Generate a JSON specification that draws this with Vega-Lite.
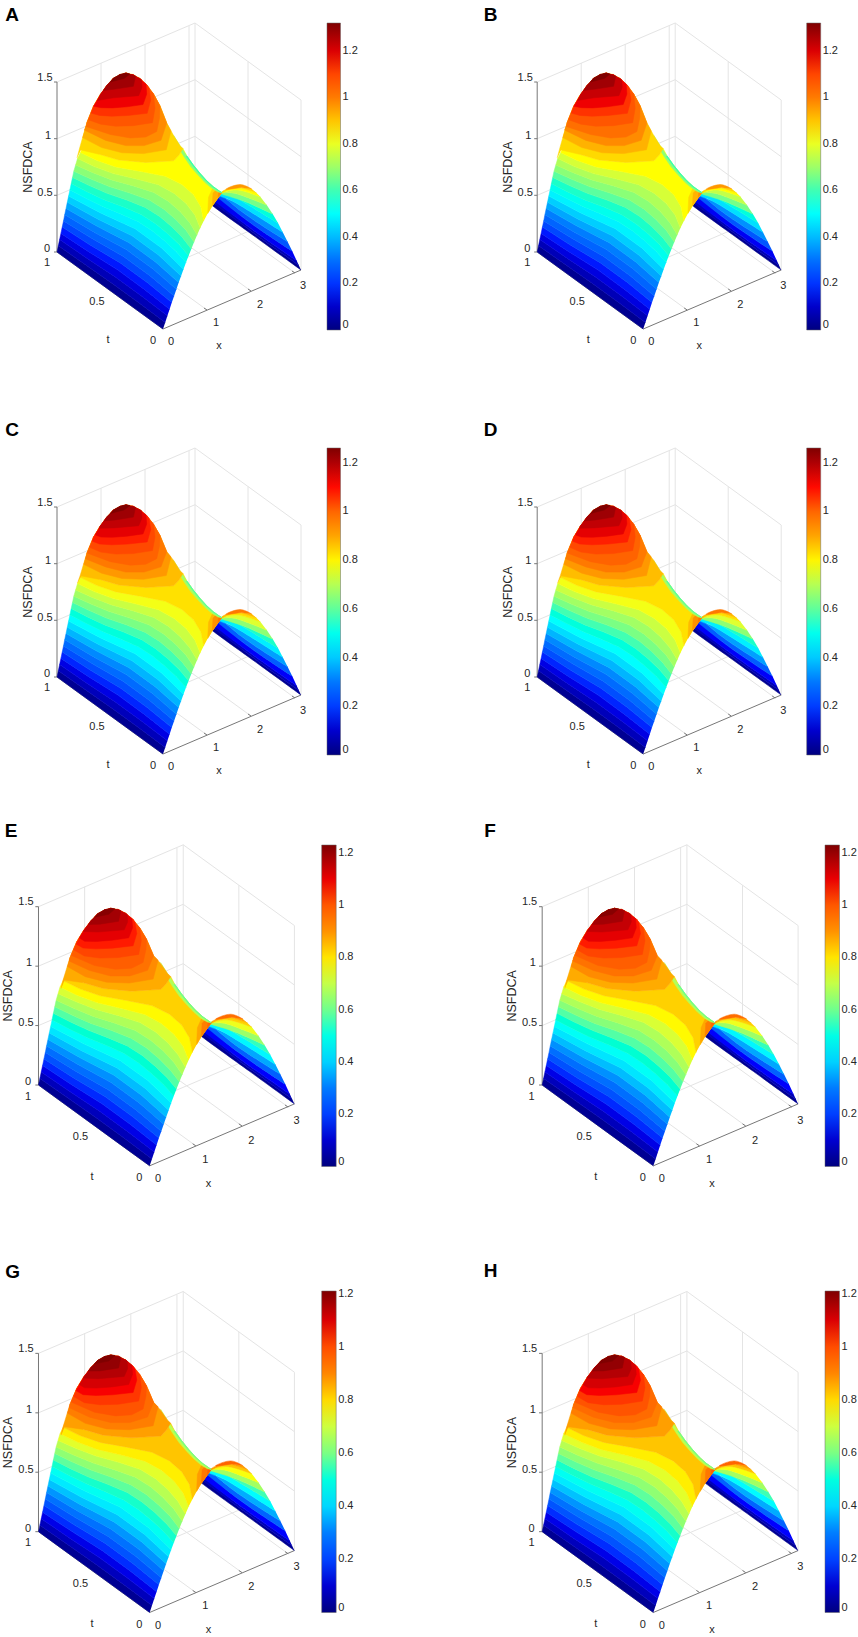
{
"$schema":"https://vega.github.io/schema/vega-lite/v6.json",
"padding":0,"background":"white","spacing":0,
"config":{"view":{"stroke":null},"text":{"font":"Liberation Sans","fontSize":11,"color":"#262626"},"rule":{"strokeWidth":1},"line":{"filled":true,"strokeWidth":0.5},"legend":{"direction":"vertical","gradientStrokeColor":"#666","gradientStrokeWidth":0.5,"labelFont":"Liberation Sans","labelFontSize":11,"labelColor":"#262626","labelOverlap":false,"labelOffset":6,"labelFlush":false}},
"datasets":{
"grid":[{"u":57,"v":252,"u2":195,"v2":193},{"u":195,"v":193,"u2":301,"v2":270},{"u":207,"v":310,"u2":101,"v2":233},{"u":251,"v":291,"u2":145,"v2":214},{"u":295,"v":273,"u2":189,"v2":196},{"u":110,"v":290.5,"u2":248,"v2":231.5},{"u":57,"v":195.3,"u2":195,"v2":136.3},{"u":57,"v":138.7,"u2":195,"v2":79.7},{"u":57,"v":82,"u2":195,"v2":23},{"u":101,"v":233,"u2":101,"v2":63},{"u":145,"v":214,"u2":145,"v2":44},{"u":189,"v":196,"u2":189,"v2":26},{"u":195,"v":193,"u2":195,"v2":23},{"u":195,"v":136.3,"u2":301,"v2":213.3},{"u":195,"v":79.7,"u2":301,"v2":156.7},{"u":195,"v":23,"u2":301,"v2":100},{"u":248,"v":231.5,"u2":248,"v2":61.5},{"u":301,"v":270,"u2":301,"v2":100}],
"axes":[{"u":57,"v":252,"u2":57,"v2":82},{"u":57,"v":252,"u2":163,"v2":329},{"u":163,"v":329,"u2":301,"v2":270},{"u":57,"v":252,"u2":54,"v2":252},{"u":57,"v":195.3,"u2":54,"v2":195.3},{"u":57,"v":138.7,"u2":54,"v2":138.7},{"u":57,"v":82,"u2":54,"v2":82},{"u":207,"v":310,"u2":204,"v2":308},{"u":251,"v":291,"u2":248,"v2":289},{"u":295,"v":273,"u2":292,"v2":271},{"u":110,"v":290.5,"u2":113,"v2":289}],
"labels":[{"s":"1.5","u":45,"v":78},{"s":"1","u":48,"v":136},{"s":"0.5","u":45,"v":193},{"s":"0","u":47,"v":249},{"s":"1","u":47,"v":263},{"s":"0.5","u":97,"v":302},{"s":"0","u":153,"v":341},{"s":"0","u":171,"v":342},{"s":"1","u":216,"v":323},{"s":"2","u":260,"v":305},{"s":"3","u":303,"v":286},{"s":"t","u":108,"v":340},{"s":"x","u":219,"v":346}],
"wedge":[
{"z":0.025,"i":1,"u":301,"v":270},{"z":0.025,"i":2,"u":258.6,"v":239.2},{"z":0.025,"i":3,"u":210.9,"v":204.5},{"z":0.025,"i":4,"u":209,"v":199.6},{"z":0.025,"i":5,"u":256,"v":234.7},{"z":0.025,"i":6,"u":298.8,"v":265.3},
{"z":0.075,"i":1,"u":298.8,"v":265.3},{"z":0.075,"i":2,"u":256,"v":234.7},{"z":0.075,"i":3,"u":209,"v":199.6},{"z":0.075,"i":4,"u":207.1,"v":194.8},{"z":0.075,"i":5,"u":253.3,"v":230.2},{"z":0.075,"i":6,"u":296.6,"v":260.6},
{"z":0.15,"i":1,"u":296.6,"v":260.6},{"z":0.15,"i":2,"u":253.3,"v":230.2},{"z":0.15,"i":3,"u":207.1,"v":194.8},{"z":0.15,"i":4,"u":203.2,"v":185.1},{"z":0.15,"i":5,"u":247.9,"v":221.1},{"z":0.15,"i":6,"u":292.2,"v":251.1},
{"z":0.25,"i":1,"u":292.2,"v":251.1},{"z":0.25,"i":2,"u":247.9,"v":221.1},{"z":0.25,"i":3,"u":203.2,"v":185.1},{"z":0.25,"i":4,"u":199.3,"v":175.5},{"z":0.25,"i":5,"u":242.4,"v":212.1},{"z":0.25,"i":6,"u":287.6,"v":241.7},
{"z":0.35,"i":1,"u":287.6,"v":241.7},{"z":0.35,"i":2,"u":242.4,"v":212.1},{"z":0.35,"i":3,"u":199.3,"v":175.5},{"z":0.35,"i":4,"u":218,"v":195},{"z":0.35,"i":5,"u":236.5,"v":203.3},{"z":0.35,"i":6,"u":282.9,"v":232.4},
{"z":0.45,"i":1,"u":282.9,"v":232.4},{"z":0.45,"i":2,"u":236.5,"v":203.3},{"z":0.45,"i":3,"u":218,"v":195},{"z":0.45,"i":4,"u":219,"v":193.5},{"z":0.45,"i":5,"u":230.2,"v":194.6},{"z":0.45,"i":6,"u":278,"v":223.1},
{"z":0.55,"i":1,"u":278,"v":223.1},{"z":0.55,"i":2,"u":230.2,"v":194.6},{"z":0.55,"i":3,"u":219,"v":193.5},{"z":0.55,"i":4,"u":220,"v":193.5},{"z":0.55,"i":5,"u":245,"v":201.6},{"z":0.55,"i":6,"u":272.7,"v":214.1},
{"z":0.65,"i":1,"u":272.7,"v":214.1},{"z":0.65,"i":2,"u":245,"v":201.6},{"z":0.65,"i":3,"u":220,"v":193.5},{"z":0.65,"i":4,"u":220.5,"v":193},{"z":0.65,"i":5,"u":236.6,"v":193.8},{"z":0.65,"i":6,"u":266.9,"v":205.3},
{"z":0.75,"i":1,"u":266.9,"v":205.3},{"z":0.75,"i":2,"u":236.6,"v":193.8},{"z":0.75,"i":3,"u":220.5,"v":193},{"z":0.75,"i":4,"u":221,"v":192.5},{"z":0.75,"i":5,"u":238,"v":190},{"z":0.75,"i":6,"u":260.3,"v":196.8},
{"z":0.825,"i":1,"u":260.3,"v":196.8},{"z":0.825,"i":2,"u":238,"v":190},{"z":0.825,"i":3,"u":221,"v":192.5},{"z":0.825,"i":4,"u":222,"v":192.8},{"z":0.825,"i":5,"u":236,"v":187.5},{"z":0.825,"i":6,"u":256.3,"v":192.8},
{"z":0.875,"i":1,"u":256.3,"v":192.8},{"z":0.875,"i":2,"u":236,"v":187.5},{"z":0.875,"i":3,"u":222,"v":192.8},{"z":0.875,"i":4,"u":226,"v":189.5},{"z":0.875,"i":5,"u":240.9,"v":187.5},{"z":0.875,"i":6,"u":251.8,"v":189},
{"z":0.96,"i":1,"u":251.8,"v":189},{"z":0.96,"i":2,"u":246,"v":186},{"z":0.96,"i":3,"u":240,"v":184.5},{"z":0.96,"i":4,"u":232,"v":186.2},{"z":0.96,"i":5,"u":226,"v":189.5},{"z":0.96,"i":6,"u":240.9,"v":187.5}
],
"main":[
{"z":0.025,"i":1,"u":163,"v":329},{"z":0.025,"i":2,"u":136.5,"v":309.8},{"z":0.025,"i":3,"u":110,"v":290.5},{"z":0.025,"i":4,"u":83.5,"v":271.3},{"z":0.025,"i":5,"u":57,"v":252},{"z":0.025,"i":6,"u":58.3,"v":245.8},{"z":0.025,"i":7,"u":85.4,"v":264.7},{"z":0.025,"i":8,"u":112.6,"v":283.7},{"z":0.025,"i":9,"u":139.1,"v":303},{"z":0.025,"i":10,"u":165.2,"v":322.4},
{"z":0.075,"i":1,"u":165.2,"v":322.4},{"z":0.075,"i":2,"u":139.1,"v":303},{"z":0.075,"i":3,"u":112.6,"v":283.7},{"z":0.075,"i":4,"u":85.4,"v":264.7},{"z":0.075,"i":5,"u":58.3,"v":245.8},{"z":0.075,"i":6,"u":59.6,"v":239.6},{"z":0.075,"i":7,"u":87.2,"v":258.4},{"z":0.075,"i":8,"u":115.3,"v":276.9},{"z":0.075,"i":9,"u":141.8,"v":296.2},{"z":0.075,"i":10,"u":167.4,"v":315.8},
{"z":0.125,"i":1,"u":167.4,"v":315.8},{"z":0.125,"i":2,"u":141.8,"v":296.2},{"z":0.125,"i":3,"u":115.3,"v":276.9},{"z":0.125,"i":4,"u":87.2,"v":258.4},{"z":0.125,"i":5,"u":59.6,"v":239.6},{"z":0.125,"i":6,"u":60.9,"v":233.4},{"z":0.125,"i":7,"u":89,"v":251.9},{"z":0.125,"i":8,"u":117.9,"v":270.1},{"z":0.125,"i":9,"u":144.4,"v":289.4},{"z":0.125,"i":10,"u":169.6,"v":309.2},
{"z":0.175,"i":1,"u":169.6,"v":309.2},{"z":0.175,"i":2,"u":144.4,"v":289.4},{"z":0.175,"i":3,"u":117.9,"v":270.1},{"z":0.175,"i":4,"u":89,"v":251.9},{"z":0.175,"i":5,"u":60.9,"v":233.4},{"z":0.175,"i":6,"u":62.2,"v":227.1},{"z":0.175,"i":7,"u":90.9,"v":245.5},{"z":0.175,"i":8,"u":120.7,"v":263.2},{"z":0.175,"i":9,"u":147.2,"v":282.5},{"z":0.175,"i":10,"u":171.8,"v":302.5},
{"z":0.225,"i":1,"u":171.8,"v":302.5},{"z":0.225,"i":2,"u":147.2,"v":282.5},{"z":0.225,"i":3,"u":120.7,"v":263.2},{"z":0.225,"i":4,"u":90.9,"v":245.5},{"z":0.225,"i":5,"u":62.2,"v":227.1},{"z":0.225,"i":6,"u":63.5,"v":220.9},{"z":0.225,"i":7,"u":92.8,"v":239},{"z":0.225,"i":8,"u":123.4,"v":256.5},{"z":0.225,"i":9,"u":149.9,"v":275.7},{"z":0.225,"i":10,"u":174.1,"v":296},
{"z":0.275,"i":1,"u":174.1,"v":296},{"z":0.275,"i":2,"u":149.9,"v":275.7},{"z":0.275,"i":3,"u":123.4,"v":256.5},{"z":0.275,"i":4,"u":92.8,"v":239},{"z":0.275,"i":5,"u":63.5,"v":220.9},{"z":0.275,"i":6,"u":64.7,"v":214.7},{"z":0.275,"i":7,"u":94.6,"v":232.4},{"z":0.275,"i":8,"u":126.2,"v":249.6},{"z":0.275,"i":9,"u":152.7,"v":268.8},{"z":0.275,"i":10,"u":176.4,"v":289.3},
{"z":0.325,"i":1,"u":176.4,"v":289.3},{"z":0.325,"i":2,"u":152.7,"v":268.8},{"z":0.325,"i":3,"u":126.2,"v":249.6},{"z":0.325,"i":4,"u":94.6,"v":232.4},{"z":0.325,"i":5,"u":64.7,"v":214.7},{"z":0.325,"i":6,"u":66,"v":208.5},{"z":0.325,"i":7,"u":96.6,"v":226},{"z":0.325,"i":8,"u":129,"v":242.7},{"z":0.325,"i":9,"u":155.5,"v":261.9},{"z":0.325,"i":10,"u":178.7,"v":282.6},
{"z":0.375,"i":1,"u":178.7,"v":282.6},{"z":0.375,"i":2,"u":155.5,"v":261.9},{"z":0.375,"i":3,"u":129,"v":242.7},{"z":0.375,"i":4,"u":96.6,"v":226},{"z":0.375,"i":5,"u":66,"v":208.5},{"z":0.375,"i":6,"u":67.3,"v":202.3},{"z":0.375,"i":7,"u":98.5,"v":219.5},{"z":0.375,"i":8,"u":132,"v":235.8},{"z":0.375,"i":9,"u":158.5,"v":255},{"z":0.375,"i":10,"u":181.1,"v":276},
{"z":0.425,"i":1,"u":181.1,"v":276},{"z":0.425,"i":2,"u":158.5,"v":255},{"z":0.425,"i":3,"u":132,"v":235.8},{"z":0.425,"i":4,"u":98.5,"v":219.5},{"z":0.425,"i":5,"u":67.3,"v":202.3},{"z":0.425,"i":6,"u":68.6,"v":196.1},{"z":0.425,"i":7,"u":100.6,"v":213},{"z":0.425,"i":8,"u":135.1,"v":228.8},{"z":0.425,"i":9,"u":161.6,"v":248},{"z":0.425,"i":10,"u":183.5,"v":269.2},
{"z":0.475,"i":1,"u":183.5,"v":269.2},{"z":0.475,"i":2,"u":161.6,"v":248},{"z":0.475,"i":3,"u":135.1,"v":228.8},{"z":0.475,"i":4,"u":100.6,"v":213},{"z":0.475,"i":5,"u":68.6,"v":196.1},{"z":0.475,"i":6,"u":69.9,"v":189.9},{"z":0.475,"i":7,"u":85.9,"v":198.3},{"z":0.475,"i":8,"u":102.6,"v":206.4},{"z":0.475,"i":9,"u":120.8,"v":213.9},{"z":0.475,"i":10,"u":138.3,"v":221.7},{"z":0.475,"i":11,"u":152.5,"v":231},{"z":0.475,"i":12,"u":164.8,"v":241},{"z":0.475,"i":13,"u":176.1,"v":251.5},{"z":0.475,"i":14,"u":186,"v":262.5},
{"z":0.525,"i":1,"u":186,"v":262.5},{"z":0.525,"i":2,"u":176.1,"v":251.5},{"z":0.525,"i":3,"u":164.8,"v":241},{"z":0.525,"i":4,"u":152.5,"v":231},{"z":0.525,"i":5,"u":138.3,"v":221.7},{"z":0.525,"i":6,"u":120.8,"v":213.9},{"z":0.525,"i":7,"u":102.6,"v":206.4},{"z":0.525,"i":8,"u":85.9,"v":198.3},{"z":0.525,"i":9,"u":69.9,"v":189.9},{"z":0.525,"i":10,"u":71.2,"v":183.6},{"z":0.525,"i":11,"u":87.5,"v":191.9},{"z":0.525,"i":12,"u":104.7,"v":199.9},{"z":0.525,"i":13,"u":123.6,"v":207.1},{"z":0.525,"i":14,"u":141.7,"v":214.7},{"z":0.525,"i":15,"u":156,"v":223.9},{"z":0.525,"i":16,"u":168.2,"v":234},{"z":0.525,"i":17,"u":179.2,"v":244.6},{"z":0.525,"i":18,"u":188.6,"v":255.8},
{"z":0.575,"i":1,"u":188.6,"v":255.8},{"z":0.575,"i":2,"u":179.2,"v":244.6},{"z":0.575,"i":3,"u":168.2,"v":234},{"z":0.575,"i":4,"u":156,"v":223.9},{"z":0.575,"i":5,"u":141.7,"v":214.7},{"z":0.575,"i":6,"u":123.6,"v":207.1},{"z":0.575,"i":7,"u":104.7,"v":199.9},{"z":0.575,"i":8,"u":87.5,"v":191.9},{"z":0.575,"i":9,"u":71.2,"v":183.6},{"z":0.575,"i":10,"u":72.5,"v":177.4},{"z":0.575,"i":11,"u":89.3,"v":185.6},{"z":0.575,"i":12,"u":107,"v":193.3},{"z":0.575,"i":13,"u":126.7,"v":200.1},{"z":0.575,"i":14,"u":145.3,"v":207.4},{"z":0.575,"i":15,"u":159.7,"v":216.5},{"z":0.575,"i":16,"u":171.8,"v":226.7},{"z":0.575,"i":17,"u":182.4,"v":237.4},{"z":0.575,"i":18,"u":191.3,"v":248.9},
{"z":0.625,"i":1,"u":191.3,"v":248.9},{"z":0.625,"i":2,"u":182.4,"v":237.4},{"z":0.625,"i":3,"u":171.8,"v":226.7},{"z":0.625,"i":4,"u":159.7,"v":216.5},{"z":0.625,"i":5,"u":145.3,"v":207.4},{"z":0.625,"i":6,"u":126.7,"v":200.1},{"z":0.625,"i":7,"u":107,"v":193.3},{"z":0.625,"i":8,"u":89.3,"v":185.6},{"z":0.625,"i":9,"u":72.5,"v":177.4},{"z":0.625,"i":10,"u":73.8,"v":171.2},{"z":0.625,"i":11,"u":90.9,"v":179.1},{"z":0.625,"i":12,"u":109.2,"v":186.6},{"z":0.625,"i":13,"u":129.8,"v":193.1},{"z":0.625,"i":14,"u":149.3,"v":200.1},{"z":0.625,"i":15,"u":163.9,"v":209.2},{"z":0.625,"i":16,"u":175.8,"v":219.4},{"z":0.625,"i":17,"u":186,"v":230.3},{"z":0.625,"i":18,"u":194.1,"v":242.1},
{"z":0.675,"i":1,"u":194.1,"v":242.1},{"z":0.675,"i":2,"u":186,"v":230.3},{"z":0.675,"i":3,"u":175.8,"v":219.4},{"z":0.675,"i":4,"u":163.9,"v":209.2},{"z":0.675,"i":5,"u":149.3,"v":200.1},{"z":0.675,"i":6,"u":129.8,"v":193.1},{"z":0.675,"i":7,"u":109.2,"v":186.6},{"z":0.675,"i":8,"u":90.9,"v":179.1},{"z":0.675,"i":9,"u":73.8,"v":171.2},{"z":0.675,"i":10,"u":75.6,"v":165},{"z":0.675,"i":11,"u":92.9,"v":172.7},{"z":0.675,"i":12,"u":111.7,"v":179.9},{"z":0.675,"i":13,"u":133.4,"v":185.9},{"z":0.675,"i":14,"u":153.8,"v":192.5},{"z":0.675,"i":15,"u":168.6,"v":201.5},{"z":0.675,"i":16,"u":180.3,"v":211.8},{"z":0.675,"i":17,"u":189.9,"v":223},{"z":0.675,"i":18,"u":197.1,"v":235.1},
{"z":0.725,"i":1,"u":197.1,"v":235.1},{"z":0.725,"i":2,"u":189.9,"v":223},{"z":0.725,"i":3,"u":180.3,"v":211.8},{"z":0.725,"i":4,"u":168.6,"v":201.5},{"z":0.725,"i":5,"u":153.8,"v":192.5},{"z":0.725,"i":6,"u":133.4,"v":185.9},{"z":0.725,"i":7,"u":111.7,"v":179.9},{"z":0.725,"i":8,"u":92.9,"v":172.7},{"z":0.725,"i":9,"u":75.6,"v":165},{"z":0.725,"i":10,"u":77.5,"v":158.6},{"z":0.725,"i":11,"u":94.2,"v":166.6},{"z":0.725,"i":12,"u":113.2,"v":173.6},{"z":0.725,"i":13,"u":136.3,"v":179},{"z":0.725,"i":14,"u":158.4,"v":184.8},{"z":0.725,"i":15,"u":174.2,"v":193.4},{"z":0.725,"i":16,"u":186.1,"v":203.6},{"z":0.725,"i":17,"u":194.9,"v":215.1},{"z":0.725,"i":18,"u":200.2,"v":228.1},
{"z":0.775,"i":1,"u":200.2,"v":228.1},{"z":0.775,"i":2,"u":194.9,"v":215.1},{"z":0.775,"i":3,"u":186.1,"v":203.6},{"z":0.775,"i":4,"u":174.2,"v":193.4},{"z":0.775,"i":5,"u":158.4,"v":184.8},{"z":0.775,"i":6,"u":136.3,"v":179},{"z":0.775,"i":7,"u":113.2,"v":173.6},{"z":0.775,"i":8,"u":94.2,"v":166.6},{"z":0.775,"i":9,"u":77.5,"v":158.6},{"z":0.775,"i":10,"u":80.5,"v":152.5},{"z":0.775,"i":11,"u":96.4,"v":160.3},{"z":0.775,"i":12,"u":115.8,"v":166.9},{"z":0.775,"i":13,"u":141,"v":171.4},{"z":0.775,"i":14,"u":165.2,"v":176.3},{"z":0.775,"i":15,"u":181.9,"v":184.5},{"z":0.775,"i":16,"u":193.6,"v":194.8},{"z":0.775,"i":17,"u":200.9,"v":206.9},{"z":0.775,"i":18,"u":203.7,"v":221},
{"z":0.825,"i":1,"u":203.7,"v":221},{"z":0.825,"i":2,"u":200.9,"v":206.9},{"z":0.825,"i":3,"u":193.6,"v":194.8},{"z":0.825,"i":4,"u":181.9,"v":184.5},{"z":0.825,"i":5,"u":165.2,"v":176.3},{"z":0.825,"i":6,"u":141,"v":171.4},{"z":0.825,"i":7,"u":115.8,"v":166.9},{"z":0.825,"i":8,"u":96.4,"v":160.3},{"z":0.825,"i":9,"u":80.5,"v":152.5},{"z":0.825,"i":10,"u":83,"v":146.5},{"z":0.825,"i":11,"u":100,"v":154.5},{"z":0.825,"i":12,"u":118.7,"v":160},{"z":0.825,"i":13,"u":146,"v":162.5},{"z":0.825,"i":14,"u":173.7,"v":160.8},{"z":0.825,"i":15,"u":179,"v":155},{"z":0.825,"i":16,"u":183,"v":148.5},{"z":0.825,"i":17,"u":186.7,"v":155.7},{"z":0.825,"i":18,"u":193.3,"v":165},{"z":0.825,"i":19,"u":200,"v":173.3},{"z":0.825,"i":20,"u":206.7,"v":180.7},{"z":0.825,"i":21,"u":213.3,"v":186.7},{"z":0.825,"i":22,"u":221.7,"v":192.7},{"z":0.825,"i":23,"u":212.2,"v":206},{"z":0.825,"i":24,"u":207.7,"v":213.6},
{"z":0.875,"i":1,"u":207.7,"v":213.6},{"z":0.875,"i":2,"u":208.5,"v":197.3},{"z":0.875,"i":3,"u":212.5,"v":188.5},{"z":0.875,"i":4,"u":221.7,"v":192.7},{"z":0.875,"i":5,"u":212.2,"v":206},
{"z":0.925,"i":1,"u":212.2,"v":206},{"z":0.925,"i":2,"u":213,"v":193},{"z":0.925,"i":3,"u":216,"v":190},{"z":0.925,"i":4,"u":222,"v":192.7},
{"z":0.97,"i":1,"u":218,"v":198},{"z":0.97,"i":2,"u":218.5,"v":192.5},{"z":0.97,"i":3,"u":222,"v":192.7},
{"z":0.68,"i":1,"u":173.3,"v":135},{"z":0.68,"i":2,"u":180,"v":145.7},{"z":0.68,"i":3,"u":186.7,"v":155.7},{"z":0.68,"i":4,"u":193.3,"v":165},{"z":0.68,"i":5,"u":200,"v":173.3},{"z":0.68,"i":6,"u":206.7,"v":180.7},{"z":0.68,"i":7,"u":213.3,"v":186.7},{"z":0.68,"i":8,"u":221.7,"v":192.7},{"z":0.68,"i":9,"u":218,"v":192},{"z":0.68,"i":10,"u":212,"v":188.5},{"z":0.68,"i":11,"u":205,"v":182.5},{"z":0.68,"i":12,"u":198,"v":175},{"z":0.68,"i":13,"u":191,"v":167},{"z":0.68,"i":14,"u":184.5,"v":157.5},{"z":0.68,"i":15,"u":178,"v":147},
{"z":0.58,"i":1,"u":186.7,"v":155.7},{"z":0.58,"i":2,"u":193.3,"v":165},{"z":0.58,"i":3,"u":200,"v":173.3},{"z":0.58,"i":4,"u":206.7,"v":180.7},{"z":0.58,"i":5,"u":213.3,"v":186.7},{"z":0.58,"i":6,"u":221.7,"v":192.7},{"z":0.58,"i":7,"u":212.9,"v":187},{"z":0.58,"i":8,"u":206.2,"v":181},{"z":0.58,"i":9,"u":199.5,"v":173.8},{"z":0.58,"i":10,"u":192.8,"v":165.5},{"z":0.58,"i":11,"u":186.2,"v":156.2}
],
"peakA":[
{"z":0.875,"i":1,"u":77,"v":158},{"z":0.875,"i":2,"u":80,"v":146.7},{"z":0.875,"i":3,"u":86.7,"v":123.3},{"z":0.875,"i":4,"u":93.3,"v":106.7},{"z":0.875,"i":5,"u":100,"v":95},{"z":0.875,"i":6,"u":106.7,"v":85.5},{"z":0.875,"i":7,"u":113.3,"v":78.3},{"z":0.875,"i":8,"u":120,"v":74.5},{"z":0.875,"i":9,"u":126,"v":73},{"z":0.875,"i":10,"u":133,"v":74.5},{"z":0.875,"i":11,"u":140,"v":78.5},{"z":0.875,"i":12,"u":147,"v":85},{"z":0.875,"i":13,"u":153.5,"v":94},{"z":0.875,"i":14,"u":160,"v":106},{"z":0.875,"i":15,"u":166.7,"v":123},{"z":0.875,"i":16,"u":173.3,"v":135},{"z":0.875,"i":17,"u":180,"v":145.7},{"z":0.875,"i":18,"u":183,"v":148.5},{"z":0.875,"i":19,"u":179,"v":155},{"z":0.875,"i":20,"u":173.7,"v":160.8},{"z":0.875,"i":21,"u":146,"v":162.5},{"z":0.875,"i":22,"u":118.7,"v":160},{"z":0.875,"i":23,"u":100,"v":154.5},{"z":0.875,"i":24,"u":81,"v":150},
{"z":0.925,"i":1,"u":82.4,"v":137.6},{"z":0.925,"i":1.5,"u":101.6,"v":147.5},{"z":0.925,"i":2,"u":122,"v":152.8},{"z":0.925,"i":2.5,"u":143.6,"v":153.6},{"z":0.925,"i":3,"u":166.3,"v":149.8},{"z":0.925,"i":4,"u":171,"v":131},{"z":0.925,"i":5,"u":166.7,"v":123},{"z":0.925,"i":6,"u":160,"v":106},{"z":0.925,"i":7,"u":153.5,"v":94},{"z":0.925,"i":8,"u":140,"v":78.5},{"z":0.925,"i":9,"u":126,"v":73},{"z":0.925,"i":10,"u":113.3,"v":78.3},{"z":0.925,"i":11,"u":100,"v":95},{"z":0.925,"i":12,"u":93.3,"v":106.7},{"z":0.925,"i":13,"u":86.7,"v":123.3},
{"z":0.975,"i":1,"u":84.2,"v":130},{"z":0.975,"i":1.5,"u":105.7,"v":140.4},{"z":0.975,"i":2,"u":125.7,"v":145.6},{"z":0.975,"i":2.5,"u":144.1,"v":145.6},{"z":0.975,"i":3,"u":161,"v":140.3},{"z":0.975,"i":4,"u":166.7,"v":123},{"z":0.975,"i":5,"u":160,"v":106},{"z":0.975,"i":6,"u":153.5,"v":94},{"z":0.975,"i":7,"u":140,"v":78.5},{"z":0.975,"i":8,"u":126,"v":73},{"z":0.975,"i":9,"u":113.3,"v":78.3},{"z":0.975,"i":10,"u":100,"v":95},{"z":0.975,"i":11,"u":93.3,"v":106.7},{"z":0.975,"i":12,"u":86.7,"v":123.3},
{"z":1.025,"i":1,"u":85.8,"v":126.4},{"z":1.025,"i":1.5,"u":110.4,"v":134.5},{"z":1.025,"i":2,"u":130.4,"v":138},{"z":1.025,"i":2.5,"u":145.8,"v":137},{"z":1.025,"i":3,"u":156.7,"v":131.5},{"z":1.025,"i":3.5,"u":159.5,"v":118},{"z":1.025,"i":4,"u":160,"v":106},{"z":1.025,"i":5,"u":153.5,"v":94},{"z":1.025,"i":6,"u":140,"v":78.5},{"z":1.025,"i":7,"u":126,"v":73},{"z":1.025,"i":8,"u":113.3,"v":78.3},{"z":1.025,"i":9,"u":100,"v":95},{"z":1.025,"i":10,"u":93.3,"v":106.7},{"z":1.025,"i":11,"u":86.7,"v":123.3},
{"z":1.075,"i":1,"u":88.1,"v":119.7},{"z":1.075,"i":1.5,"u":100.8,"v":124.2},{"z":1.075,"i":2,"u":115.7,"v":126.2},{"z":1.075,"i":2.5,"u":133,"v":125.7},{"z":1.075,"i":3,"u":152.5,"v":122.7},{"z":1.075,"i":3.5,"u":155,"v":108},{"z":1.075,"i":4,"u":153.5,"v":94},{"z":1.075,"i":5,"u":147,"v":85},{"z":1.075,"i":6,"u":133,"v":74.5},{"z":1.075,"i":7,"u":120,"v":74.5},{"z":1.075,"i":8,"u":106.7,"v":85.5},{"z":1.075,"i":9,"u":93.3,"v":106.7},
{"z":1.125,"i":1,"u":90.8,"v":113},{"z":1.125,"i":1.5,"u":99.5,"v":115.4},{"z":1.125,"i":2,"u":111.8,"v":116.2},{"z":1.125,"i":2.5,"u":127.7,"v":115.5},{"z":1.125,"i":3,"u":147.2,"v":113.3},{"z":1.125,"i":3.5,"u":150.7,"v":100},{"z":1.125,"i":4,"u":149,"v":88},{"z":1.125,"i":5,"u":147,"v":85},{"z":1.125,"i":6,"u":133,"v":74.5},{"z":1.125,"i":7,"u":120,"v":74.5},{"z":1.125,"i":8,"u":106.7,"v":85.5},{"z":1.125,"i":9,"u":93.3,"v":106.7},
{"z":1.175,"i":1,"u":93.5,"v":106.2},{"z":1.175,"i":1.5,"u":101,"v":107.7},{"z":1.175,"i":2,"u":112.4,"v":107.9},{"z":1.175,"i":2.5,"u":127,"v":106.8},{"z":1.175,"i":3,"u":143,"v":104.5},{"z":1.175,"i":3.5,"u":146.7,"v":94},{"z":1.175,"i":4,"u":146,"v":84},{"z":1.175,"i":5,"u":140,"v":78.5},{"z":1.175,"i":6,"u":126,"v":73},{"z":1.175,"i":7,"u":113.3,"v":78.3},{"z":1.175,"i":8,"u":100,"v":95},
{"z":1.225,"i":1,"u":97.1,"v":100.5},{"z":1.225,"i":2,"u":113.8,"v":97.8},{"z":1.225,"i":3,"u":138.7,"v":95.7},{"z":1.225,"i":3.5,"u":142,"v":87.5},{"z":1.225,"i":4,"u":141.5,"v":79.8},{"z":1.225,"i":5,"u":133,"v":74.5},{"z":1.225,"i":6,"u":120,"v":74.5},{"z":1.225,"i":7,"u":106.7,"v":85.5},{"z":1.225,"i":8,"u":100,"v":95},
{"z":1.275,"i":1,"u":103,"v":90.5},{"z":1.275,"i":2,"u":115.4,"v":89.1},{"z":1.275,"i":3,"u":133.4,"v":86.3},{"z":1.275,"i":4,"u":135.5,"v":76},{"z":1.275,"i":5,"u":126,"v":73},{"z":1.275,"i":6,"u":120,"v":74.5},{"z":1.275,"i":7,"u":113.3,"v":78.3},{"z":1.275,"i":8,"u":106.7,"v":85.5},
{"z":1.32,"i":1,"u":110,"v":82},{"z":1.32,"i":2,"u":124,"v":78.5},{"z":1.32,"i":3,"u":130,"v":74},{"z":1.32,"i":4,"u":126,"v":73},{"z":1.32,"i":5,"u":120,"v":74.5},{"z":1.32,"i":6,"u":113.3,"v":78.3}
],
"peakC":[
{"z":0.87,"i":1,"u":77.5,"v":158},{"z":0.87,"i":2,"u":80,"v":151},{"z":0.87,"i":3,"u":86.7,"v":128.6},{"z":0.87,"i":4,"u":93.3,"v":112.6},{"z":0.87,"i":5,"u":100,"v":101.3},{"z":0.87,"i":6,"u":106.7,"v":92.1},{"z":0.87,"i":7,"u":113.3,"v":85.1},{"z":0.87,"i":8,"u":120,"v":81.3},{"z":0.87,"i":9,"u":126,"v":79.8},{"z":0.87,"i":10,"u":133,"v":81.1},{"z":0.87,"i":11,"u":140,"v":84.8},{"z":0.87,"i":12,"u":147,"v":90.8},{"z":0.87,"i":13,"u":153.5,"v":99.3},{"z":0.87,"i":14,"u":160,"v":110.6},{"z":0.87,"i":15,"u":166.7,"v":126.7},{"z":0.87,"i":16,"u":173.3,"v":135},{"z":0.87,"i":17,"u":180,"v":145.7},{"z":0.87,"i":18,"u":183,"v":148.5},{"z":0.87,"i":19,"u":179,"v":155},{"z":0.87,"i":20,"u":173.7,"v":160.8},{"z":0.87,"i":21,"u":146,"v":162.5},{"z":0.87,"i":22,"u":118.7,"v":160},{"z":0.87,"i":23,"u":100,"v":154.5},{"z":0.87,"i":24,"u":81.5,"v":151},
{"z":0.915,"i":1,"u":83.5,"v":139.3},{"z":0.915,"i":1.5,"u":101.6,"v":148.2},{"z":0.915,"i":2,"u":122,"v":153.5},{"z":0.915,"i":2.5,"u":143.6,"v":154.3},{"z":0.915,"i":3,"u":166.3,"v":150.5},{"z":0.915,"i":4,"u":171,"v":132},{"z":0.915,"i":5,"u":166.7,"v":126.7},{"z":0.915,"i":6,"u":160,"v":110.6},{"z":0.915,"i":7,"u":153.5,"v":99.3},{"z":0.915,"i":8,"u":140,"v":84.8},{"z":0.915,"i":9,"u":126,"v":79.8},{"z":0.915,"i":10,"u":113.3,"v":85.1},{"z":0.915,"i":11,"u":100,"v":101.3},{"z":0.915,"i":12,"u":93.3,"v":112.6},{"z":0.915,"i":13,"u":86.7,"v":128.6},
{"z":0.959,"i":1,"u":85.2,"v":133.7},{"z":0.959,"i":1.5,"u":105.7,"v":141.9},{"z":0.959,"i":2,"u":125.7,"v":147.1},{"z":0.959,"i":2.5,"u":144.1,"v":147.1},{"z":0.959,"i":3,"u":161,"v":141.8},{"z":0.959,"i":4,"u":166.7,"v":126.7},{"z":0.959,"i":5,"u":160,"v":110.6},{"z":0.959,"i":6,"u":153.5,"v":99.3},{"z":0.959,"i":7,"u":140,"v":84.8},{"z":0.959,"i":8,"u":126,"v":79.8},{"z":0.959,"i":9,"u":113.3,"v":85.1},{"z":0.959,"i":10,"u":100,"v":101.3},{"z":0.959,"i":11,"u":93.3,"v":112.6},{"z":0.959,"i":12,"u":86.7,"v":128.6},
{"z":1.002,"i":1,"u":87,"v":128},{"z":1.002,"i":1.5,"u":110.4,"v":136.7},{"z":1.002,"i":2,"u":130.4,"v":140.2},{"z":1.002,"i":2.5,"u":145.8,"v":139.2},{"z":1.002,"i":3,"u":156.7,"v":133.7},{"z":1.002,"i":3.5,"u":159.5,"v":121},{"z":1.002,"i":4,"u":160,"v":110.6},{"z":1.002,"i":5,"u":153.5,"v":99.3},{"z":1.002,"i":6,"u":140,"v":84.8},{"z":1.002,"i":7,"u":126,"v":79.8},{"z":1.002,"i":8,"u":113.3,"v":85.1},{"z":1.002,"i":9,"u":100,"v":101.3},{"z":1.002,"i":10,"u":93.3,"v":112.6},
{"z":1.046,"i":1,"u":89.4,"v":122.2},{"z":1.046,"i":1.5,"u":100.8,"v":127.1},{"z":1.046,"i":2,"u":115.7,"v":129.1},{"z":1.046,"i":2.5,"u":133,"v":128.6},{"z":1.046,"i":3,"u":152.5,"v":125.6},{"z":1.046,"i":3.5,"u":155,"v":112},{"z":1.046,"i":4,"u":153.5,"v":99.3},{"z":1.046,"i":5,"u":147,"v":90.8},{"z":1.046,"i":6,"u":133,"v":81.1},{"z":1.046,"i":7,"u":120,"v":81.3},{"z":1.046,"i":8,"u":106.7,"v":92.1},{"z":1.046,"i":9,"u":93.3,"v":112.6},
{"z":1.09,"i":1,"u":91.9,"v":116},{"z":1.09,"i":1.5,"u":99.5,"v":119},{"z":1.09,"i":2,"u":111.8,"v":119.8},{"z":1.09,"i":2.5,"u":127.7,"v":119.1},{"z":1.09,"i":3,"u":147.2,"v":116.9},{"z":1.09,"i":3.5,"u":150.7,"v":104.5},{"z":1.09,"i":4,"u":149,"v":93.5},{"z":1.09,"i":5,"u":147,"v":90.8},{"z":1.09,"i":6,"u":133,"v":81.1},{"z":1.09,"i":7,"u":120,"v":81.3},{"z":1.09,"i":8,"u":106.7,"v":92.1},{"z":1.09,"i":9,"u":93.3,"v":112.6},
{"z":1.133,"i":1,"u":95,"v":109.8},{"z":1.133,"i":1.5,"u":101,"v":112.1},{"z":1.133,"i":2,"u":112.4,"v":112.3},{"z":1.133,"i":2.5,"u":127,"v":111.2},{"z":1.133,"i":3,"u":143,"v":108.9},{"z":1.133,"i":3.5,"u":146.7,"v":99},{"z":1.133,"i":4,"u":146,"v":89.8},{"z":1.133,"i":5,"u":140,"v":84.8},{"z":1.133,"i":6,"u":126,"v":79.8},{"z":1.133,"i":7,"u":113.3,"v":85.1},{"z":1.133,"i":8,"u":100,"v":101.3},
{"z":1.177,"i":1,"u":98.9,"v":103.2},{"z":1.177,"i":2,"u":113.8,"v":102.9},{"z":1.177,"i":3,"u":138.7,"v":100.8},{"z":1.177,"i":3.5,"u":142,"v":93},{"z":1.177,"i":4,"u":141.5,"v":85.7},{"z":1.177,"i":5,"u":133,"v":81.1},{"z":1.177,"i":6,"u":120,"v":81.3},{"z":1.177,"i":7,"u":106.7,"v":92.1},{"z":1.177,"i":8,"u":100,"v":101.3},
{"z":1.22,"i":1,"u":103.8,"v":96},{"z":1.22,"i":2,"u":115.4,"v":94.9},{"z":1.22,"i":3,"u":133.4,"v":92.1},{"z":1.22,"i":4,"u":135.5,"v":82.4},{"z":1.22,"i":5,"u":126,"v":79.8},{"z":1.22,"i":6,"u":120,"v":81.3},{"z":1.22,"i":7,"u":113.3,"v":85.1},{"z":1.22,"i":8,"u":106.7,"v":92.1},
{"z":1.26,"i":1,"u":110.1,"v":88.5},{"z":1.26,"i":2,"u":124,"v":85},{"z":1.26,"i":3,"u":130,"v":80.5},{"z":1.26,"i":4,"u":126,"v":79.8},{"z":1.26,"i":5,"u":120,"v":81.3},{"z":1.26,"i":6,"u":113.3,"v":85.1}
],
"peakE":[
{"z":0.87,"i":1,"u":78.5,"v":160},{"z":0.87,"i":2,"u":80,"v":153.4},{"z":0.87,"i":3,"u":86.7,"v":131.4},{"z":0.87,"i":4,"u":93.3,"v":115.8},{"z":0.87,"i":5,"u":100,"v":104.7},{"z":0.87,"i":6,"u":106.7,"v":95.7},{"z":0.87,"i":7,"u":113.3,"v":88.8},{"z":0.87,"i":8,"u":120,"v":85},{"z":0.87,"i":9,"u":126,"v":83.5},{"z":0.87,"i":10,"u":133,"v":84.6},{"z":0.87,"i":11,"u":140,"v":88.2},{"z":0.87,"i":12,"u":147,"v":94},{"z":0.87,"i":13,"u":153.5,"v":102.2},{"z":0.87,"i":14,"u":160,"v":113.1},{"z":0.87,"i":15,"u":166.7,"v":128.7},{"z":0.87,"i":16,"u":173.3,"v":136},{"z":0.87,"i":17,"u":180,"v":145.7},{"z":0.87,"i":18,"u":183,"v":148.5},{"z":0.87,"i":19,"u":179,"v":155},{"z":0.87,"i":20,"u":173.7,"v":160.8},{"z":0.87,"i":21,"u":146,"v":162.5},{"z":0.87,"i":22,"u":118.7,"v":160},{"z":0.87,"i":23,"u":100,"v":154.5},{"z":0.87,"i":24,"u":82,"v":152},
{"z":0.909,"i":1,"u":84.4,"v":138.9},{"z":0.909,"i":1.5,"u":101.6,"v":148.7},{"z":0.909,"i":2,"u":122,"v":154},{"z":0.909,"i":2.5,"u":143.6,"v":154.8},{"z":0.909,"i":3,"u":166.3,"v":151},{"z":0.909,"i":4,"u":171,"v":133},{"z":0.909,"i":5,"u":166.7,"v":128.7},{"z":0.909,"i":6,"u":160,"v":113.1},{"z":0.909,"i":7,"u":153.5,"v":102.2},{"z":0.909,"i":8,"u":140,"v":88.2},{"z":0.909,"i":9,"u":126,"v":83.5},{"z":0.909,"i":10,"u":113.3,"v":88.8},{"z":0.909,"i":11,"u":100,"v":104.7},{"z":0.909,"i":12,"u":93.3,"v":115.8},{"z":0.909,"i":13,"u":86.7,"v":131.4},
{"z":0.949,"i":1,"u":86,"v":133.7},{"z":0.949,"i":1.5,"u":105.7,"v":142.8},{"z":0.949,"i":2,"u":125.7,"v":148},{"z":0.949,"i":2.5,"u":144.1,"v":148},{"z":0.949,"i":3,"u":161,"v":142.7},{"z":0.949,"i":4,"u":166.7,"v":128.7},{"z":0.949,"i":5,"u":160,"v":113.1},{"z":0.949,"i":6,"u":153.5,"v":102.2},{"z":0.949,"i":7,"u":140,"v":88.2},{"z":0.949,"i":8,"u":126,"v":83.5},{"z":0.949,"i":9,"u":113.3,"v":88.8},{"z":0.949,"i":10,"u":100,"v":104.7},{"z":0.949,"i":11,"u":93.3,"v":115.8},{"z":0.949,"i":12,"u":86.7,"v":131.4},
{"z":0.988,"i":1,"u":88,"v":128.4},{"z":0.988,"i":1.5,"u":110.4,"v":138.1},{"z":0.988,"i":2,"u":130.4,"v":141.6},{"z":0.988,"i":2.5,"u":145.8,"v":140.6},{"z":0.988,"i":3,"u":156.7,"v":135.1},{"z":0.988,"i":3.5,"u":159.5,"v":122.5},{"z":0.988,"i":4,"u":160,"v":113.1},{"z":0.988,"i":5,"u":153.5,"v":102.2},{"z":0.988,"i":6,"u":140,"v":88.2},{"z":0.988,"i":7,"u":126,"v":83.5},{"z":0.988,"i":8,"u":113.3,"v":88.8},{"z":0.988,"i":9,"u":100,"v":104.7},{"z":0.988,"i":10,"u":93.3,"v":115.8},
{"z":1.027,"i":1,"u":90.2,"v":123},{"z":1.027,"i":1.5,"u":100.8,"v":129},{"z":1.027,"i":2,"u":115.7,"v":131},{"z":1.027,"i":2.5,"u":133,"v":130.5},{"z":1.027,"i":3,"u":152.5,"v":127.5},{"z":1.027,"i":3.5,"u":155,"v":114.5},{"z":1.027,"i":4,"u":153.5,"v":102.2},{"z":1.027,"i":5,"u":147,"v":94},{"z":1.027,"i":6,"u":133,"v":84.6},{"z":1.027,"i":7,"u":120,"v":85},{"z":1.027,"i":8,"u":106.7,"v":95.7},{"z":1.027,"i":9,"u":93.3,"v":115.8},
{"z":1.067,"i":1,"u":92.6,"v":117.5},{"z":1.067,"i":1.5,"u":99.5,"v":121.4},{"z":1.067,"i":2,"u":111.8,"v":122.2},{"z":1.067,"i":2.5,"u":127.7,"v":121.5},{"z":1.067,"i":3,"u":147.2,"v":119.3},{"z":1.067,"i":3.5,"u":150.7,"v":107.5},{"z":1.067,"i":4,"u":149,"v":97},{"z":1.067,"i":5,"u":147,"v":94},{"z":1.067,"i":6,"u":133,"v":84.6},{"z":1.067,"i":7,"u":120,"v":85},{"z":1.067,"i":8,"u":106.7,"v":95.7},{"z":1.067,"i":9,"u":100,"v":104.7},
{"z":1.106,"i":1,"u":95.8,"v":111.7},{"z":1.106,"i":1.5,"u":101,"v":114.9},{"z":1.106,"i":2,"u":112.4,"v":115.1},{"z":1.106,"i":2.5,"u":127,"v":114},{"z":1.106,"i":3,"u":143,"v":111.7},{"z":1.106,"i":3.5,"u":146.7,"v":102},{"z":1.106,"i":4,"u":146,"v":93.2},{"z":1.106,"i":5,"u":140,"v":88.2},{"z":1.106,"i":6,"u":126,"v":83.5},{"z":1.106,"i":7,"u":113.3,"v":88.8},{"z":1.106,"i":8,"u":100,"v":104.7},
{"z":1.145,"i":1,"u":99.5,"v":105.6},{"z":1.145,"i":2,"u":113.8,"v":106.2},{"z":1.145,"i":3,"u":138.7,"v":104.1},{"z":1.145,"i":3.5,"u":142,"v":96.5},{"z":1.145,"i":4,"u":141.5,"v":89.2},{"z":1.145,"i":5,"u":133,"v":84.6},{"z":1.145,"i":6,"u":120,"v":85},{"z":1.145,"i":7,"u":106.7,"v":95.7},
{"z":1.185,"i":1,"u":104.3,"v":98.9},{"z":1.185,"i":2,"u":115.4,"v":98.7},{"z":1.185,"i":3,"u":133.4,"v":95.9},{"z":1.185,"i":4,"u":135.5,"v":85.7},{"z":1.185,"i":5,"u":126,"v":83.5},{"z":1.185,"i":6,"u":120,"v":85},{"z":1.185,"i":7,"u":113.3,"v":88.8},{"z":1.185,"i":8,"u":106.7,"v":95.7},
{"z":1.22,"i":1,"u":110.3,"v":92},{"z":1.22,"i":2,"u":124,"v":89.3},{"z":1.22,"i":3,"u":130,"v":84},{"z":1.22,"i":4,"u":126,"v":83.5},{"z":1.22,"i":5,"u":120,"v":85},{"z":1.22,"i":6,"u":113.3,"v":88.8}
]
},
"vconcat":[
{"spacing":0,"hconcat":[
{"width":429,"height":410,"encoding":{"x":{"field":"u","type":"quantitative","scale":{"domain":[0,429]},"axis":null},"y":{"field":"v","type":"quantitative","scale":{"domain":[410,0]},"axis":null}},"layer":[
{"data":{"name":"grid"},"mark":{"type":"rule","color":"#e4e4e4"},"encoding":{"x2":{"field":"u2"},"y2":{"field":"v2"}}},
{"data":{"name":"axes"},"mark":{"type":"rule","color":"#777777"},"encoding":{"x2":{"field":"u2"},"y2":{"field":"v2"}}},
{"encoding":{"fill":{"field":"z","type":"quantitative","scale":{"domain":[0,0.165,0.33,0.495,0.66,0.825,0.99,1.155,1.32],"range":["#00007f","#0000ff","#007fff","#00ffff","#7fff7f","#ffff00","#ff7f00","#ff0000","#7f0000"],"clamp":true},"legend":{"title":null,"format":"~g","orient":"none","legendX":327,"legendY":23,"gradientLength":307,"gradientThickness":13.5,"values":[0,0.2,0.4,0.6,0.8,1,1.2]}},"stroke":{"field":"z","type":"quantitative","scale":{"domain":[0,0.165,0.33,0.495,0.66,0.825,0.99,1.155,1.32001],"range":["#00007f","#0000ff","#007fff","#00ffff","#7fff7f","#ffff00","#ff7f00","#ff0000","#7f0000"],"clamp":true},"legend":null},"order":{"field":"i","type":"quantitative"}},"layer":[
{"data":{"name":"wedge"},"mark":{"type":"line","interpolate":"cardinal","tension":0}},
{"data":{"name":"main"},"mark":{"type":"line"}},
{"data":{"name":"peakA"},"mark":{"type":"line"}}]},
{"data":{"name":"labels"},"mark":{"type":"text"},"encoding":{"text":{"field":"s"}}},
{"data":{"values":[{"s":"NSFDCA","u":28,"v":167}]},"mark":{"type":"text","angle":270,"fontSize":12.5},"encoding":{"text":{"field":"s"}}},
{"data":{"values":[{"s":"A","u":12,"v":15}]},"mark":{"type":"text","fontWeight":"bold","fontSize":19,"color":"#000000"},"encoding":{"text":{"field":"s"}}}]},
{"width":429,"height":410,"encoding":{"x":{"field":"u","type":"quantitative","scale":{"domain":[-51.2,377.8]},"axis":null},"y":{"field":"v","type":"quantitative","scale":{"domain":[410,0]},"axis":null}},"layer":[
{"data":{"name":"grid"},"mark":{"type":"rule","color":"#e4e4e4"},"encoding":{"x2":{"field":"u2"},"y2":{"field":"v2"}}},
{"data":{"name":"axes"},"mark":{"type":"rule","color":"#777777"},"encoding":{"x2":{"field":"u2"},"y2":{"field":"v2"}}},
{"encoding":{"fill":{"field":"z","type":"quantitative","scale":{"domain":[0,0.165,0.33,0.495,0.66,0.825,0.99,1.155,1.32],"range":["#00007f","#0000ff","#007fff","#00ffff","#7fff7f","#ffff00","#ff7f00","#ff0000","#7f0000"],"clamp":true},"legend":{"title":null,"format":"~g","orient":"none","legendX":377.7,"legendY":23,"gradientLength":307,"gradientThickness":14,"values":[0,0.2,0.4,0.6,0.8,1,1.2]}},"stroke":{"field":"z","type":"quantitative","scale":{"domain":[0,0.165,0.33,0.495,0.66,0.825,0.99,1.155,1.32001],"range":["#00007f","#0000ff","#007fff","#00ffff","#7fff7f","#ffff00","#ff7f00","#ff0000","#7f0000"],"clamp":true},"legend":null},"order":{"field":"i","type":"quantitative"}},"layer":[
{"data":{"name":"wedge"},"mark":{"type":"line","interpolate":"cardinal","tension":0}},
{"data":{"name":"main"},"mark":{"type":"line"}},
{"data":{"name":"peakA"},"mark":{"type":"line"}}]},
{"data":{"name":"labels"},"mark":{"type":"text"},"encoding":{"text":{"field":"s"}}},
{"data":{"values":[{"s":"NSFDCA","u":28,"v":167}]},"mark":{"type":"text","angle":270,"fontSize":12.5},"encoding":{"text":{"field":"s"}}},
{"data":{"values":[{"s":"B","u":10.5,"v":15}]},"mark":{"type":"text","fontWeight":"bold","fontSize":19,"color":"#000000"},"encoding":{"text":{"field":"s"}}}]}
],"resolve":{"scale":{"fill":"independent","stroke":"independent","x":"independent","y":"independent"},"legend":{"fill":"independent"}}},
{"spacing":0,"hconcat":[
{"width":429,"height":390,"encoding":{"x":{"field":"u","type":"quantitative","scale":{"domain":[0,429]},"axis":null},"y":{"field":"v","type":"quantitative","scale":{"domain":[375,-15]},"axis":null}},"layer":[
{"data":{"name":"grid"},"mark":{"type":"rule","color":"#e4e4e4"},"encoding":{"x2":{"field":"u2"},"y2":{"field":"v2"}}},
{"data":{"name":"axes"},"mark":{"type":"rule","color":"#777777"},"encoding":{"x2":{"field":"u2"},"y2":{"field":"v2"}}},
{"encoding":{"fill":{"field":"z","type":"quantitative","scale":{"domain":[0,0.1575,0.315,0.4725,0.63,0.7875,0.945,1.1025,1.26],"range":["#00007f","#0000ff","#007fff","#00ffff","#7fff7f","#ffff00","#ff7f00","#ff0000","#7f0000"],"clamp":true},"legend":{"title":null,"format":"~g","orient":"none","legendX":327,"legendY":38,"gradientLength":307,"gradientThickness":13.5,"values":[0,0.2,0.4,0.6,0.8,1,1.2]}},"stroke":{"field":"z","type":"quantitative","scale":{"domain":[0,0.1575,0.315,0.4725,0.63,0.7875,0.945,1.1025,1.26001],"range":["#00007f","#0000ff","#007fff","#00ffff","#7fff7f","#ffff00","#ff7f00","#ff0000","#7f0000"],"clamp":true},"legend":null},"order":{"field":"i","type":"quantitative"}},"layer":[
{"data":{"name":"wedge"},"mark":{"type":"line","interpolate":"cardinal","tension":0}},
{"data":{"name":"main"},"mark":{"type":"line"}},
{"data":{"name":"peakC"},"mark":{"type":"line"}}]},
{"data":{"name":"labels"},"mark":{"type":"text"},"encoding":{"text":{"field":"s"}}},
{"data":{"values":[{"s":"NSFDCA","u":28,"v":167}]},"mark":{"type":"text","angle":270,"fontSize":12.5},"encoding":{"text":{"field":"s"}}},
{"data":{"values":[{"s":"C","u":12,"v":5}]},"mark":{"type":"text","fontWeight":"bold","fontSize":19,"color":"#000000"},"encoding":{"text":{"field":"s"}}}]},
{"width":429,"height":390,"encoding":{"x":{"field":"u","type":"quantitative","scale":{"domain":[-51.2,377.8]},"axis":null},"y":{"field":"v","type":"quantitative","scale":{"domain":[375,-15]},"axis":null}},"layer":[
{"data":{"name":"grid"},"mark":{"type":"rule","color":"#e4e4e4"},"encoding":{"x2":{"field":"u2"},"y2":{"field":"v2"}}},
{"data":{"name":"axes"},"mark":{"type":"rule","color":"#777777"},"encoding":{"x2":{"field":"u2"},"y2":{"field":"v2"}}},
{"encoding":{"fill":{"field":"z","type":"quantitative","scale":{"domain":[0,0.1575,0.315,0.4725,0.63,0.7875,0.945,1.1025,1.26],"range":["#00007f","#0000ff","#007fff","#00ffff","#7fff7f","#ffff00","#ff7f00","#ff0000","#7f0000"],"clamp":true},"legend":{"title":null,"format":"~g","orient":"none","legendX":377.7,"legendY":38,"gradientLength":307,"gradientThickness":14,"values":[0,0.2,0.4,0.6,0.8,1,1.2]}},"stroke":{"field":"z","type":"quantitative","scale":{"domain":[0,0.1575,0.315,0.4725,0.63,0.7875,0.945,1.1025,1.26001],"range":["#00007f","#0000ff","#007fff","#00ffff","#7fff7f","#ffff00","#ff7f00","#ff0000","#7f0000"],"clamp":true},"legend":null},"order":{"field":"i","type":"quantitative"}},"layer":[
{"data":{"name":"wedge"},"mark":{"type":"line","interpolate":"cardinal","tension":0}},
{"data":{"name":"main"},"mark":{"type":"line"}},
{"data":{"name":"peakC"},"mark":{"type":"line"}}]},
{"data":{"name":"labels"},"mark":{"type":"text"},"encoding":{"text":{"field":"s"}}},
{"data":{"values":[{"s":"NSFDCA","u":28,"v":167}]},"mark":{"type":"text","angle":270,"fontSize":12.5},"encoding":{"text":{"field":"s"}}},
{"data":{"values":[{"s":"D","u":10.5,"v":5}]},"mark":{"type":"text","fontWeight":"bold","fontSize":19,"color":"#000000"},"encoding":{"text":{"field":"s"}}}]}
],"resolve":{"scale":{"fill":"independent","stroke":"independent","x":"independent","y":"independent"},"legend":{"fill":"independent"}}},
{"spacing":0,"hconcat":[
{"width":429,"height":417,"encoding":{"x":{"field":"u","type":"quantitative","scale":{"domain":[20.3,429.3]},"axis":null},"y":{"field":"v","type":"quantitative","scale":{"domain":[377.8,-19.7]},"axis":null}},"layer":[
{"data":{"name":"grid"},"mark":{"type":"rule","color":"#e4e4e4"},"encoding":{"x2":{"field":"u2"},"y2":{"field":"v2"}}},
{"data":{"name":"axes"},"mark":{"type":"rule","color":"#777777"},"encoding":{"x2":{"field":"u2"},"y2":{"field":"v2"}}},
{"encoding":{"fill":{"field":"z","type":"quantitative","scale":{"domain":[0,0.15375,0.3075,0.46125,0.615,0.76875,0.9225,1.07625,1.23],"range":["#00007f","#0000ff","#007fff","#00ffff","#7fff7f","#ffff00","#ff7f00","#ff0000","#7f0000"],"clamp":true},"legend":{"title":null,"format":"~g","orient":"none","legendX":321.7,"legendY":45,"gradientLength":321.5,"gradientThickness":14.5,"values":[0,0.2,0.4,0.6,0.8,1,1.2]}},"stroke":{"field":"z","type":"quantitative","scale":{"domain":[0,0.15375,0.3075,0.46125,0.615,0.76875,0.9225,1.07625,1.23001],"range":["#00007f","#0000ff","#007fff","#00ffff","#7fff7f","#ffff00","#ff7f00","#ff0000","#7f0000"],"clamp":true},"legend":null},"order":{"field":"i","type":"quantitative"}},"layer":[
{"data":{"name":"wedge"},"mark":{"type":"line","interpolate":"cardinal","tension":0}},
{"data":{"name":"main"},"mark":{"type":"line"}},
{"data":{"name":"peakE"},"mark":{"type":"line"}}]},
{"data":{"name":"labels"},"mark":{"type":"text"},"encoding":{"text":{"field":"s"}}},
{"data":{"values":[{"s":"NSFDCA","u":28,"v":167}]},"mark":{"type":"text","angle":270,"fontSize":12.5},"encoding":{"text":{"field":"s"}}},
{"data":{"values":[{"s":"E","u":30.8,"v":9.6}]},"mark":{"type":"text","fontWeight":"bold","fontSize":19,"color":"#000000"},"encoding":{"text":{"field":"s"}}}]},
{"width":429,"height":417,"encoding":{"x":{"field":"u","type":"quantitative","scale":{"domain":[-50.9,358.1]},"axis":null},"y":{"field":"v","type":"quantitative","scale":{"domain":[377.8,-19.7]},"axis":null}},"layer":[
{"data":{"name":"grid"},"mark":{"type":"rule","color":"#e4e4e4"},"encoding":{"x2":{"field":"u2"},"y2":{"field":"v2"}}},
{"data":{"name":"axes"},"mark":{"type":"rule","color":"#777777"},"encoding":{"x2":{"field":"u2"},"y2":{"field":"v2"}}},
{"encoding":{"fill":{"field":"z","type":"quantitative","scale":{"domain":[0,0.15375,0.3075,0.46125,0.615,0.76875,0.9225,1.07625,1.23],"range":["#00007f","#0000ff","#007fff","#00ffff","#7fff7f","#ffff00","#ff7f00","#ff0000","#7f0000"],"clamp":true},"legend":{"title":null,"format":"~g","orient":"none","legendX":396,"legendY":45,"gradientLength":321.5,"gradientThickness":14.5,"values":[0,0.2,0.4,0.6,0.8,1,1.2]}},"stroke":{"field":"z","type":"quantitative","scale":{"domain":[0,0.15375,0.3075,0.46125,0.615,0.76875,0.9225,1.07625,1.23001],"range":["#00007f","#0000ff","#007fff","#00ffff","#7fff7f","#ffff00","#ff7f00","#ff0000","#7f0000"],"clamp":true},"legend":null},"order":{"field":"i","type":"quantitative"}},"layer":[
{"data":{"name":"wedge"},"mark":{"type":"line","interpolate":"cardinal","tension":0}},
{"data":{"name":"main"},"mark":{"type":"line"}},
{"data":{"name":"peakE"},"mark":{"type":"line"}}]},
{"data":{"name":"labels"},"mark":{"type":"text"},"encoding":{"text":{"field":"s"}}},
{"data":{"values":[{"s":"NSFDCA","u":28,"v":167}]},"mark":{"type":"text","angle":270,"fontSize":12.5},"encoding":{"text":{"field":"s"}}},
{"data":{"values":[{"s":"F","u":7.3,"v":9.6}]},"mark":{"type":"text","fontWeight":"bold","fontSize":19,"color":"#000000"},"encoding":{"text":{"field":"s"}}}]}
],"resolve":{"scale":{"fill":"independent","stroke":"independent","x":"independent","y":"independent"},"legend":{"fill":"independent"}}},
{"spacing":0,"hconcat":[
{"width":429,"height":420,"encoding":{"x":{"field":"u","type":"quantitative","scale":{"domain":[20.3,429.3]},"axis":null},"y":{"field":"v","type":"quantitative","scale":{"domain":[352.4,-48]},"axis":null}},"layer":[
{"data":{"name":"grid"},"mark":{"type":"rule","color":"#e4e4e4"},"encoding":{"x2":{"field":"u2"},"y2":{"field":"v2"}}},
{"data":{"name":"axes"},"mark":{"type":"rule","color":"#777777"},"encoding":{"x2":{"field":"u2"},"y2":{"field":"v2"}}},
{"encoding":{"fill":{"field":"z","type":"quantitative","scale":{"domain":[0,0.15125,0.3025,0.45375,0.605,0.75625,0.9075,1.05875,1.21],"range":["#00007f","#0000ff","#007fff","#00ffff","#7fff7f","#ffff00","#ff7f00","#ff0000","#7f0000"],"clamp":true},"legend":{"title":null,"format":"~g","orient":"none","legendX":321.7,"legendY":74,"gradientLength":321.5,"gradientThickness":14.5,"values":[0,0.2,0.4,0.6,0.8,1,1.2]}},"stroke":{"field":"z","type":"quantitative","scale":{"domain":[0,0.15125,0.3025,0.45375,0.605,0.75625,0.9075,1.05875,1.21001],"range":["#00007f","#0000ff","#007fff","#00ffff","#7fff7f","#ffff00","#ff7f00","#ff0000","#7f0000"],"clamp":true},"legend":null},"order":{"field":"i","type":"quantitative"}},"layer":[
{"data":{"name":"wedge"},"mark":{"type":"line","interpolate":"cardinal","tension":0}},
{"data":{"name":"main"},"mark":{"type":"line"}},
{"data":{"name":"peakE"},"mark":{"type":"line"}}]},
{"data":{"name":"labels"},"mark":{"type":"text"},"encoding":{"text":{"field":"s"}}},
{"data":{"values":[{"s":"NSFDCA","u":28,"v":167}]},"mark":{"type":"text","angle":270,"fontSize":12.5},"encoding":{"text":{"field":"s"}}},
{"data":{"values":[{"s":"G","u":32.4,"v":4.1}]},"mark":{"type":"text","fontWeight":"bold","fontSize":19,"color":"#000000"},"encoding":{"text":{"field":"s"}}}]},
{"width":429,"height":420,"encoding":{"x":{"field":"u","type":"quantitative","scale":{"domain":[-50.9,358.1]},"axis":null},"y":{"field":"v","type":"quantitative","scale":{"domain":[352.4,-48]},"axis":null}},"layer":[
{"data":{"name":"grid"},"mark":{"type":"rule","color":"#e4e4e4"},"encoding":{"x2":{"field":"u2"},"y2":{"field":"v2"}}},
{"data":{"name":"axes"},"mark":{"type":"rule","color":"#777777"},"encoding":{"x2":{"field":"u2"},"y2":{"field":"v2"}}},
{"encoding":{"fill":{"field":"z","type":"quantitative","scale":{"domain":[0,0.15125,0.3025,0.45375,0.605,0.75625,0.9075,1.05875,1.21],"range":["#00007f","#0000ff","#007fff","#00ffff","#7fff7f","#ffff00","#ff7f00","#ff0000","#7f0000"],"clamp":true},"legend":{"title":null,"format":"~g","orient":"none","legendX":396,"legendY":74,"gradientLength":321.5,"gradientThickness":14.5,"values":[0,0.2,0.4,0.6,0.8,1,1.2]}},"stroke":{"field":"z","type":"quantitative","scale":{"domain":[0,0.15125,0.3025,0.45375,0.605,0.75625,0.9075,1.05875,1.21001],"range":["#00007f","#0000ff","#007fff","#00ffff","#7fff7f","#ffff00","#ff7f00","#ff0000","#7f0000"],"clamp":true},"legend":null},"order":{"field":"i","type":"quantitative"}},"layer":[
{"data":{"name":"wedge"},"mark":{"type":"line","interpolate":"cardinal","tension":0}},
{"data":{"name":"main"},"mark":{"type":"line"}},
{"data":{"name":"peakE"},"mark":{"type":"line"}}]},
{"data":{"name":"labels"},"mark":{"type":"text"},"encoding":{"text":{"field":"s"}}},
{"data":{"values":[{"s":"NSFDCA","u":28,"v":167}]},"mark":{"type":"text","angle":270,"fontSize":12.5},"encoding":{"text":{"field":"s"}}},
{"data":{"values":[{"s":"H","u":7.9,"v":3.2}]},"mark":{"type":"text","fontWeight":"bold","fontSize":19,"color":"#000000"},"encoding":{"text":{"field":"s"}}}]}
],"resolve":{"scale":{"fill":"independent","stroke":"independent","x":"independent","y":"independent"},"legend":{"fill":"independent"}}}
],
"resolve":{"scale":{"fill":"independent","stroke":"independent","x":"independent","y":"independent"},"legend":{"fill":"independent"}}
}
